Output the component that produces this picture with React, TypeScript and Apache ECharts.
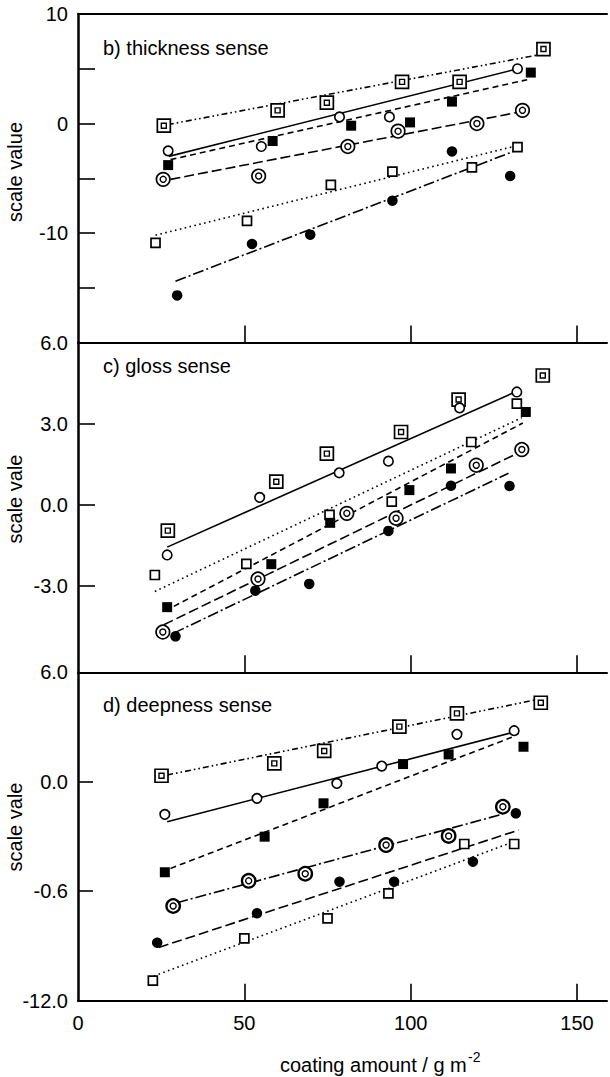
import React, { useEffect, useRef } from "react";
import * as echarts from "echarts";

// ---------- data (x: coating amount g m^-2, y: scale value) ----------
// b) thickness sense
const bDblSq = [[25.8, -0.2], [60.0, 1.2], [74.8, 1.9], [97.4, 3.8], [114.7, 3.8], [139.9, 6.8]];
const bOpenCirc = [[27.1, -2.5], [55.1, -2.1], [78.6, 0.6], [93.6, 0.6], [132.1, 5.0]];
const bFillSq = [[27.1, -3.8], [58.5, -1.6], [82.1, -0.2], [99.8, 0.1], [112.4, 2.0], [136.1, 4.65]];
const bDblCirc = [[25.6, -5.1], [54.3, -4.8], [81.1, -2.1], [96.2, -0.7], [119.9, 0.0], [133.6, 1.2]];
const bOpenSq = [[23.3, -10.9], [50.8, -8.9], [76.0, -5.6], [94.5, -4.4], [118.4, -4.0], [132.1, -2.15]];
const bFillCirc = [[29.8, -15.7], [52.3, -11.0], [69.8, -10.15], [94.5, -7.05], [112.4, -2.55], [129.9, -4.8]];
const bFitDblSq = [[27.0, -0.1], [139.0, 6.3]];
const bFitOpenCirc = [[27.3, -3.0], [130.9, 4.9]];
const bFitFillSq = [[27.8, -3.3], [135.0, 4.0]];
const bFitDblCirc = [[27.8, -5.1], [133.6, 1.1]];
const bFitOpenSq = [[23.3, -10.2], [130.9, -2.1]];
const bFitFillCirc = [[29.3, -14.4], [130.9, -2.55]];

// c) gloss sense
const cDblSq = [[27.0, -0.96], [59.6, 0.85], [74.8, 1.89], [97.1, 2.69], [114.4, 3.89], [139.7, 4.78]];
const cOpenCirc = [[26.8, -1.86], [54.6, 0.27], [78.5, 1.18], [93.3, 1.61], [114.7, 3.58], [131.9, 4.17]];
const cOpenSq = [[23.1, -2.6], [50.6, -2.19], [75.6, -0.38], [94.3, 0.11], [118.2, 2.32], [131.9, 3.74]];
const cFillSq = [[26.8, -3.79], [58.1, -2.2], [75.8, -0.67], [99.6, 0.54], [112.1, 1.34], [134.6, 3.43]];
const cDblCirc = [[25.5, -4.71], [54.1, -2.75], [80.8, -0.32], [95.6, -0.5], [119.7, 1.46], [133.4, 2.04]];
const cFillCirc = [[29.3, -4.87], [53.3, -3.18], [69.5, -2.93], [93.3, -0.97], [112.1, 0.7], [129.7, 0.69]];
const cFitOpenCirc = [[26.8, -1.57], [131.4, 4.17]];
const cFitOpenSq = [[23.1, -3.21], [133.4, 3.22]];
const cFitFillSq = [[28.8, -3.76], [133.7, 3.02]];
const cFitDblCirc = [[25.8, -4.44], [132.9, 1.95]];
const cFitFillCirc = [[28.8, -4.75], [129.4, 1.16]];

// d) deepness sense
const dDblSq = [[25.1, 0.33], [59.0, 1.01], [74.0, 1.69], [96.6, 3.02], [113.9, 3.75], [139.1, 4.33]];
const dOpenCirc = [[26.1, -1.79], [53.8, -0.91], [77.8, -0.09], [91.3, 0.86], [113.9, 2.6], [131.1, 2.8]];
const dFillSq = [[26.1, -4.96], [56.1, -3.01], [73.8, -1.18], [97.7, 0.97], [111.4, 1.5], [133.9, 1.92]];
const dDblCirc = [[28.6, -6.81], [51.3, -5.43], [68.3, -5.04], [92.6, -3.47], [111.4, -2.97], [127.7, -1.37]];
const dFillCirc = [[23.8, -8.82], [53.8, -7.21], [78.6, -5.48], [95.0, -5.48], [118.7, -4.38], [131.6, -1.73]];
const dOpenSq = [[22.5, -10.9], [50.0, -8.58], [75.0, -7.49], [93.3, -6.12], [116.1, -3.41], [131.1, -3.41]];
const dFitDblSq = [[26.8, 0.37], [138.4, 4.52]];
const dFitOpenCirc = [[26.8, -2.19], [130.4, 2.69]];
const dFitFillSq = [[27.8, -4.75], [130.4, 2.44]];
const dFitDblCirc = [[29.8, -6.63], [127.7, -1.77]];
const dFitFillCirc = [[24.3, -9.08], [132.4, -2.65]];
const dFitOpenSq = [[22.8, -10.65], [130.9, -3.29]];

// tick labels
const xTickValues = [50, 100, 150];
const xLabelValues = [0, 50, 100, 150];
const bLabelValues = [10, 0, -10];
const cLabelValues = [6, 3, 0, -3];
const dLabelText: Record<string, string> = { "6": "6.0", "0": "0.0", "-6": "-0.6", "-12": "-12.0" };

const FONT = "'Liberation Sans', Arial, Helvetica, sans-serif";
const BLACK = "#000";

const DASH = {
  solid: "solid" as any,
  dash: [6, 4],
  long: [10, 4],
  dot: [1.6, 3.4],
  dashDot: [11, 3, 2, 3],
  dashDotDot: [6, 3, 1.6, 3, 1.6, 3],
};

function fit(data: number[][], dash: any, gi: number) {
  return {
    type: "line",
    xAxisIndex: gi,
    yAxisIndex: gi,
    data,
    symbol: "none",
    showSymbol: false,
    silent: true,
    z: 2,
    lineStyle: { color: BLACK, width: 1.6, type: dash, cap: "butt" },
  };
}

function pts(data: number[][], gi: number, symbol: string, size: number, fill: string, bw: number, z = 3) {
  return {
    type: "scatter",
    xAxisIndex: gi,
    yAxisIndex: gi,
    data,
    symbol,
    symbolSize: size,
    silent: true,
    z,
    itemStyle: { color: fill, borderColor: BLACK, borderWidth: bw, opacity: 1 },
  };
}

function dblSq(data: number[][], gi: number) {
  return [pts(data, gi, "rect", 13, "#fff", 1.7, 3), pts(data, gi, "rect", 5, "#fff", 1.4, 4)];
}
function dblCirc(data: number[][], gi: number, bw = 1.7) {
  return [pts(data, gi, "circle", 13.5, "#fff", bw, 3), pts(data, gi, "circle", 6, "#fff", 1.4, 4)];
}
function openCirc(data: number[][], gi: number) {
  return pts(data, gi, "circle", 9.5, "#fff", 1.6);
}
function fillCirc(data: number[][], gi: number) {
  return pts(data, gi, "circle", 10.5, BLACK, 0);
}
function openSq(data: number[][], gi: number) {
  return pts(data, gi, "rect", 9, "#fff", 1.7);
}
function fillSq(data: number[][], gi: number) {
  return pts(data, gi, "rect", 10, BLACK, 0);
}

const tickStyle = { color: BLACK, width: 1.6 };
const labelBase = { fontSize: 20, color: BLACK, fontFamily: FONT, margin: 10, showMinLabel: true, showMaxLabel: true };

function xAxis(gi: number) {
  return {
    gridIndex: gi,
    type: "value",
    position: "bottom",
    min: 0,
    max: 159,
    axisLine: { show: true, onZero: false, lineStyle: { color: BLACK, width: 2 } },
    axisTick: { show: true, inside: true, length: 17, customValues: xTickValues, lineStyle: tickStyle },
    axisLabel: { ...labelBase, show: gi === 2, margin: 12, customValues: xLabelValues },
    splitLine: { show: false },
  };
}

const yCommon = {
  type: "value",
  axisLine: { show: true, onZero: false, lineStyle: { color: BLACK, width: 2.5 } },
  splitLine: { show: false },
};

const option: any = {
  animation: false,
  backgroundColor: "#fff",
  grid: [
    { left: 78, top: 14, width: 529, height: 328.5 },
    { left: 78, top: 342.5, width: 529, height: 329.8 },
    { left: 78, top: 672.3, width: 529, height: 328.4 },
  ],
  xAxis: [
    xAxis(0),
    xAxis(1),
    xAxis(2),
    {
      gridIndex: 0,
      type: "value",
      position: "top",
      min: 0,
      max: 159,
      axisLine: { show: true, onZero: false, lineStyle: { color: BLACK, width: 2 } },
      axisTick: { show: false },
      axisLabel: { show: false },
      splitLine: { show: false },
    },
  ],
  yAxis: [
    {
      ...yCommon,
      gridIndex: 0,
      min: -20,
      max: 10,
      interval: 5,
      axisTick: { show: true, inside: true, length: 17, lineStyle: tickStyle },
      axisLabel: {
        ...labelBase,
        formatter: (v: number) => (bLabelValues.indexOf(v) >= 0 ? String(v) : ""),
      },
    },
    {
      ...yCommon,
      gridIndex: 1,
      min: -6.2,
      max: 6,
      axisTick: { show: true, inside: true, length: 17, customValues: cLabelValues, lineStyle: tickStyle },
      axisLabel: {
        ...labelBase,
        customValues: cLabelValues,
        formatter: (v: number) => v.toFixed(1),
      },
    },
    {
      ...yCommon,
      gridIndex: 2,
      min: -12,
      max: 6,
      interval: 6,
      axisTick: { show: true, inside: true, length: 15, lineStyle: tickStyle },
      axisLabel: {
        ...labelBase,
        formatter: (v: number) => dLabelText[String(v)] ?? "",
      },
    },
  ],
  graphic: [
    { type: "text", x: 103, y: 48, style: { text: "b) thickness sense", font: `20px ${FONT}`, fill: BLACK, textAlign: "left", textVerticalAlign: "middle" } },
    { type: "text", x: 103, y: 366, style: { text: "c) gloss sense", font: `20px ${FONT}`, fill: BLACK, textAlign: "left", textVerticalAlign: "middle" } },
    { type: "text", x: 103, y: 705, style: { text: "d) deepness sense", font: `20px ${FONT}`, fill: BLACK, textAlign: "left", textVerticalAlign: "middle" } },
    { type: "text", x: 15, y: 172, rotation: Math.PI / 2, style: { text: "scale value", font: `20px ${FONT}`, fill: BLACK, textAlign: "center", textVerticalAlign: "middle" } },
    { type: "text", x: 15, y: 499, rotation: Math.PI / 2, style: { text: "scale vale", font: `20px ${FONT}`, fill: BLACK, textAlign: "center", textVerticalAlign: "middle" } },
    { type: "text", x: 15, y: 827, rotation: Math.PI / 2, style: { text: "scale vale", font: `20px ${FONT}`, fill: BLACK, textAlign: "center", textVerticalAlign: "middle" } },
    { type: "text", x: 280, y: 1065, style: { text: "coating amount / g m", font: `20px ${FONT}`, fill: BLACK, textAlign: "left", textVerticalAlign: "middle" } },
    { type: "text", x: 468, y: 1057, style: { text: "-2", font: `14px ${FONT}`, fill: BLACK, textAlign: "left", textVerticalAlign: "middle" } },
  ],
  series: [
    // panel b
    fit(bFitDblSq, DASH.dashDotDot, 0),
    fit(bFitOpenCirc, DASH.solid, 0),
    fit(bFitFillSq, DASH.dash, 0),
    fit(bFitDblCirc, DASH.long, 0),
    fit(bFitOpenSq, DASH.dot, 0),
    fit(bFitFillCirc, DASH.dashDot, 0),
    ...dblSq(bDblSq, 0),
    openCirc(bOpenCirc, 0),
    fillSq(bFillSq, 0),
    ...dblCirc(bDblCirc, 0),
    openSq(bOpenSq, 0),
    fillCirc(bFillCirc, 0),
    // panel c
    fit(cFitOpenCirc, DASH.solid, 1),
    fit(cFitOpenSq, DASH.dot, 1),
    fit(cFitFillSq, DASH.dash, 1),
    fit(cFitDblCirc, DASH.long, 1),
    fit(cFitFillCirc, DASH.dashDot, 1),
    ...dblSq(cDblSq, 1),
    openCirc(cOpenCirc, 1),
    openSq(cOpenSq, 1),
    fillSq(cFillSq, 1),
    ...dblCirc(cDblCirc, 1),
    fillCirc(cFillCirc, 1),
    // panel d
    fit(dFitDblSq, DASH.dashDotDot, 2),
    fit(dFitOpenCirc, DASH.solid, 2),
    fit(dFitFillSq, DASH.dash, 2),
    fit(dFitDblCirc, DASH.dashDot, 2),
    fit(dFitFillCirc, DASH.long, 2),
    fit(dFitOpenSq, DASH.dot, 2),
    ...dblSq(dDblSq, 2),
    openCirc(dOpenCirc, 2),
    fillSq(dFillSq, 2),
    ...dblCirc(dDblCirc, 2, 2.3),
    fillCirc(dFillCirc, 2),
    openSq(dOpenSq, 2),
  ],
};

export default function App() {
  const ref = useRef<HTMLDivElement>(null);
  useEffect(() => {
    const chart = echarts.init(ref.current!, null, { renderer: "svg" });
    chart.setOption(option);
    return () => chart.dispose();
  }, []);
  return (
    <div
      ref={ref}
      style={{ position: "fixed", left: 0, top: 0, width: 610, height: 1077, background: "#fff" }}
    />
  );
}
